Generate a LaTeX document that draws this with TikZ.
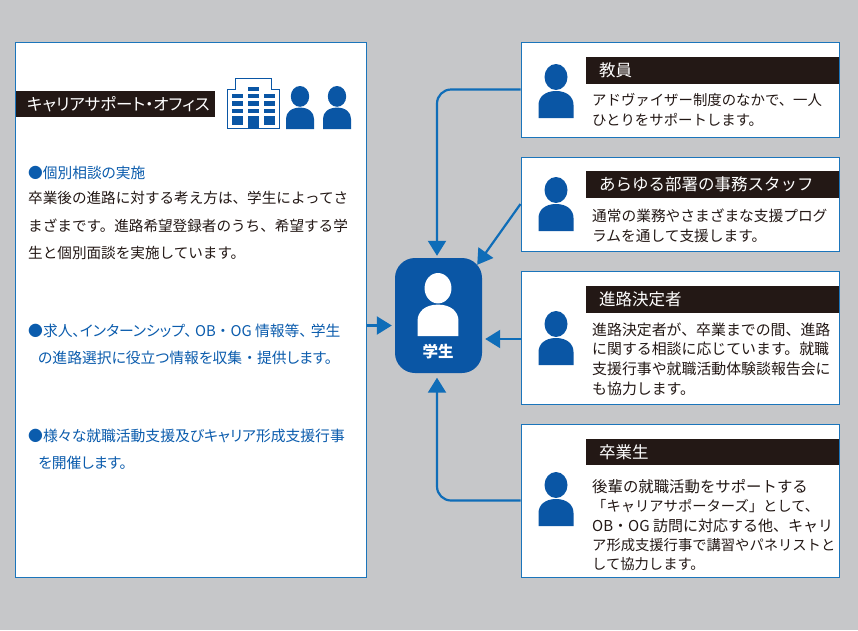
\documentclass[tikz,border=0pt]{standalone}
\usepackage{fontspec}
\setmainfont{Noto Sans CJK JP}
\newfontfamily\paltfont[RawFeature=+palt]{Noto Sans CJK JP}
\newfontfamily\fullfont{Noto Sans CJK JP}
\usetikzlibrary{arrows.meta}
\definecolor{bggray}{HTML}{C6C7C9}
\definecolor{boxblue}{HTML}{1B75BB}
\definecolor{iconblue}{HTML}{0A56A5}
\definecolor{linkblue}{HTML}{0F6DB8}
\definecolor{textblue}{HTML}{0B5CAD}
\definecolor{inkblack}{HTML}{231815}
\tikzset{
  x=1pt,y=-1pt,
  card/.style={draw=boxblue,line width=1pt,fill=white,inner sep=0pt,minimum width=#1},
  card/.default=318pt,
  bar/.style={fill=inkblack,text=white,inner ysep=0pt,inner xsep=13pt,text width=227pt,align=left,
    minimum height=26.5pt,font=\fontsize{16.5}{18}\selectfont},
  bodytext/.style={anchor=north west,inner sep=0pt,align=left,text=inkblack,
    font=\fontsize{14.4}{19.8}\selectfont},
  longtext/.style={anchor=north west,inner sep=0pt,align=left,text=inkblack,
    font=\fontsize{14.6}{27.5}\selectfont},
  bluetext/.style={anchor=north west,inner sep=0pt,align=left,text=textblue,
    font=\paltfont\fontsize{14.8}{26.5}\selectfont},
  link/.style={draw=linkblue,line width=2.2pt,-{Triangle[length=15pt,width=18pt]}},
  pics/person/.style={code={
    \fill[#1] (0,13) ellipse [x radius=11.5,y radius=13];
    \fill[#1] (-17.5,54) -- (-17.5,41) .. controls (-17.5,33) and (-11,27) .. (0,27)
       .. controls (11,27) and (17.5,33) .. (17.5,41) -- (17.5,54) -- cycle;
  }},
  pics/person/.default=iconblue
}
\begin{document}
\begin{tikzpicture}
\useasboundingbox (0,0) rectangle (858,630);
\fill[bggray] (0,0) rectangle (858,630);

% boxes
\node[card=351pt,minimum height=535pt] (office) at (190.5,309.5) {};
\node[card,minimum height=95pt] (teacher) at (680,89.5) {};
\node[card,minimum height=94pt] (staff) at (680,204) {};
\node[card,minimum height=133pt] (grad) at (680,337.5) {};
\node[card,minimum height=153pt] (alumni) at (680,500.5) {};
\node[fill=iconblue,rounded corners=20pt,minimum width=87pt,minimum height=115pt,inner sep=0pt] (student) at (438.5,315.5) {};

% connectors
\draw[link,rounded corners=14pt] (teacher.west) -| ([shift={(-1.5pt,2pt)}]student.north);
\draw[link] (staff.west) -- ([shift={(-5pt,-7pt)}]student.north east);
\draw[link] ([yshift=-1.5pt]grad.west) -- ([shift={(3pt,-23.5pt)}]student.east);
\draw[link,rounded corners=14pt] (alumni.west) -| ([shift={(-1.5pt,-4.5pt)}]student.south);
\draw[link] ([yshift=-16pt]office.east) -- ([shift={(-3pt,-10pt)}]student.west);

% student
\pic[scale=1.17] at (438,273) {person=white};
\node[text=white,inner sep=0pt,font=\fontsize{15.5}{18}\selectfont\bfseries] (studentlabel) at (438,352) {学生};

% office header
\node[fill=inkblack,text=white,inner ysep=0pt,inner xsep=11pt,text width=177pt,align=left,minimum height=26pt,
  font=\paltfont\fontsize{16.5}{18}\selectfont] (officebar) at (115.5,104) {キャリアサポート・オフィス};
\draw[iconblue,line width=1.5pt,fill=white] (227.5,128.5) -- (227.5,89.5) -- (235.5,89.5) -- (235.5,78.5) -- (271.5,78.5) -- (271.5,89.5) -- (279.5,89.5) -- (279.5,128.5) -- cycle;
\foreach \yt/\yb in {94/98,101/105.5,109/113,116/125} {
  \fill[iconblue] (232,\yt) rectangle (242.5,\yb);
  \fill[iconblue] (264,\yt) rectangle (275,\yb);
}
\foreach \yt/\yb in {87/91,94/98,101/105.5,109/113,116/129} {
  \fill[iconblue] (248,\yt) rectangle (259,\yb);
}
\pic[scale=0.8] at (300,86) {person};
\pic[scale=0.8] at (337,86) {person};

% office text
\node[anchor=north west,inner sep=0pt,text=textblue,font=\paltfont\fontsize{14.7}{18}\selectfont] (head1) at (28,166) {●個別相談の実施};
\node[longtext] (para1) at (28,191) {卒業後の進路に対する考え方は、学生によってさ\\まざまです。進路希望登録者のうち、希望する学\\生と個別面談を実施しています。};
\node[bluetext] (para2) at (28,324) {●求人、インターンシップ、\hspace{3pt}OB{\fullfont ・}OG 情報等、\hspace{4pt}学生\\\hspace*{10pt}の進路選択に役立つ情報を収集{\fullfont ・}提供します。};
\node[bluetext] (para3) at (28,429) {●様々な就職活動支援及びキャリア形成支援行事\\\hspace*{10pt}を開催します。};

% teacher
\pic at (556,64) {person};
\node[bar] (teacherbar) at (712.5,70.5) {教員};
\node[bodytext] (teachertext) at (592,93) {アドヴァイザー制度のなかで、一人\\ひとりをサポートします。};

% staff
\pic at (556,177) {person};
\node[bar] (staffbar) at (712.5,184.5) {あらゆる部署の事務スタッフ};
\node[bodytext,font=\fontsize{14.7}{19.8}\selectfont] (stafftext) at (592,208.5) {通常の業務やさまざまな支援プログ\\ラムを通して支援します。};

% graduating
\pic at (556,311) {person};
\node[bar] (gradbar) at (712.5,299.5) {進路決定者};
\node[bodytext,font=\fontsize{14.9}{19.6}\selectfont] (gradtext) at (592,322.5) {進路決定者が、卒業までの間、進路\\に関する相談に応じています。就職\\支援行事や就職活動体験談報告会に\\も協力します。};

% alumni
\pic at (556,472) {person};
\node[bar] (alumnibar) at (712.5,452) {卒業生};
\node[bodytext,font=\fontsize{14.3}{19.4}\selectfont] (alumnitext) at (592,479) {{\fontsize{15.4}{19.4}\selectfont 後輩の就職活動をサポートする}\\「キャリアサポーターズ」として、\\{\fontsize{15}{19.4}\selectfont OB・OG 訪問に対応する他、キャリ}\\ア形成支援行事で講習やパネリストと\\して協力します。};
\end{tikzpicture}
\end{document}
